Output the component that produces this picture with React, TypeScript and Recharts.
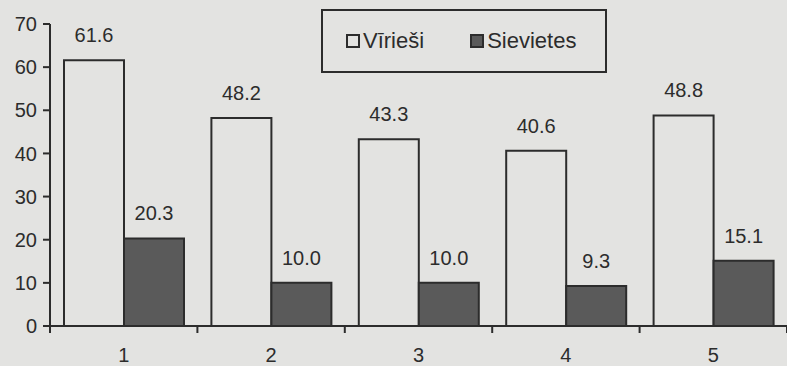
import React from "react";
import { BarChart, Bar, XAxis, YAxis, Legend, LabelList } from "recharts";

const categories = ["1", "2", "3", "4", "5"];
const men = [61.6, 48.2, 43.3, 40.6, 48.8];
const women = [20.3, 10.0, 10.0, 9.3, 15.1];
const yTicks = [0, 10, 20, 30, 40, 50, 60, 70];
const seriesNames = { men: "Vīrieši", women: "Sievietes" };
const seriesOrder = ["men", "women"];

const data = categories.map((name, i) => ({ name, men: men[i], women: women[i] }));

const W = 787;
const H = 366;
const AXIS_W = 50;
const BAND = (W - AXIS_W) / categories.length;
const INK = "#2c2c2c";
const BG = "#e3e3e1";
const DARK = "#5a5a5a";
const FONT = '"Liberation Sans", Arial, sans-serif';

// ticks sit on the category boundaries, label in the middle
function CategoryTick(props: any) {
  const { x, y, payload, index } = props;
  const half = BAND / 2;
  return (
    <g>
      <line x1={x - half} x2={x - half} y1={y} y2={y + 7} stroke={INK} strokeWidth={2} />
      {index === categories.length - 1 && (
        <line x1={x + half} x2={x + half} y1={y} y2={y + 7} stroke={INK} strokeWidth={2} />
      )}
      <text x={x} y={y + 36} textAnchor="middle" fill={INK} fontSize={20} fontFamily={FONT}>
        {payload.value}
      </text>
    </g>
  );
}

function BoxLegend(props: any) {
  const items = [...(props.payload || [])].sort(
    (a: any, b: any) => seriesOrder.indexOf(a.dataKey) - seriesOrder.indexOf(b.dataKey)
  );
  return (
    <div
      style={{
        boxSizing: "border-box",
        width: 286,
        height: 64,
        border: `2.5px solid ${INK}`,
        display: "flex",
        alignItems: "center",
        paddingLeft: 23,
        gap: 46,
        fontFamily: FONT,
        fontSize: 22,
        color: INK,
      }}
    >
      {items.map((item: any) => (
        <div key={item.value} style={{ display: "flex", alignItems: "center" }}>
          <span
            style={{
              boxSizing: "border-box",
              width: 14,
              height: 14,
              border: `2px solid ${INK}`,
              background: item.dataKey === "women" ? DARK : BG,
              marginRight: 3,
            }}
          />
          <span>{item.value}</span>
        </div>
      ))}
    </div>
  );
}

export default function App() {
  return (
    <div style={{ position: "absolute", left: 0, top: 0, width: W, height: H, background: BG }}>
      <BarChart
        width={W}
        height={H}
        data={data}
        margin={{ top: 24, right: 0, bottom: 0, left: 0 }}
        barCategoryGap={14}
        barGap={0}
      >
        <XAxis
          dataKey="name"
          height={40}
          axisLine={{ stroke: INK, strokeWidth: 2 }}
          tickLine={false}
          tickSize={0}
          tickMargin={0}
          tick={<CategoryTick />}
          interval={0}
        />
        <YAxis
          width={AXIS_W}
          domain={[0, 70]}
          ticks={yTicks}
          interval={0}
          axisLine={{ stroke: INK, strokeWidth: 2 }}
          tickLine={{ stroke: INK, strokeWidth: 2 }}
          tickSize={7}
          tickMargin={6}
          tick={{ fill: INK, fontSize: 20, fontFamily: FONT }}
        />
        <Legend
          layout="vertical"
          align="center"
          verticalAlign="middle"
          itemSorter={null as any}
          content={<BoxLegend />}
          wrapperStyle={{ position: "absolute", left: 321, top: 9, width: 286, height: 64 }}
        />
        <Bar
          dataKey="men"
          name={seriesNames.men}
          fill={BG}
          stroke={INK}
          strokeWidth={2}
          isAnimationActive={false}
        >
          <LabelList
            dataKey="men"
            position="top"
            offset={18}
            fill={INK}
            fontSize={20}
            fontFamily={FONT}
            formatter={(v: any) => Number(v).toFixed(1)}
          />
        </Bar>
        <Bar
          dataKey="women"
          name={seriesNames.women}
          fill={DARK}
          stroke={INK}
          strokeWidth={2}
          isAnimationActive={false}
        >
          <LabelList
            dataKey="women"
            position="top"
            offset={18}
            fill={INK}
            fontSize={20}
            fontFamily={FONT}
            formatter={(v: any) => Number(v).toFixed(1)}
          />
        </Bar>
      </BarChart>
    </div>
  );
}
